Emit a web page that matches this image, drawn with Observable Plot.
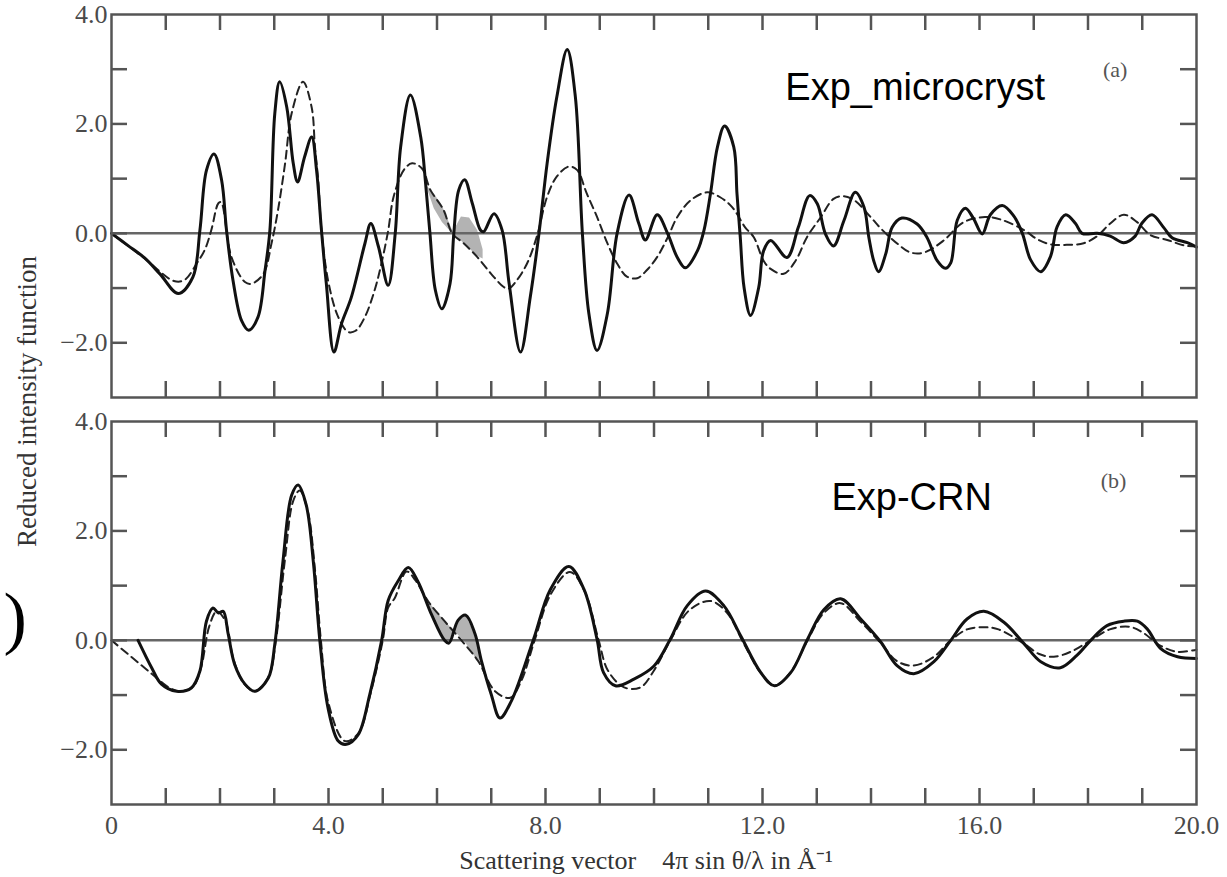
<!DOCTYPE html>
<html><head><meta charset="utf-8">
<script src="https://cdn.jsdelivr.net/npm/d3@7"></script>
<script src="https://cdn.jsdelivr.net/npm/@observablehq/plot@0.6"></script>
<style>html,body{margin:0;padding:0;background:#fff;} #chart{width:1227px;height:877px;}</style>
</head><body><div id="chart"></div>
<script>
// ---- data (scattering vector q in Å^-1, reduced intensity) ----
const panels = ["a", "b"];

const aSolidQ = [0,0.3,0.61,0.9,1.23,1.5,1.63,1.75,1.89,2.03,2.12,2.24,2.4,2.53,2.7,2.83,2.92,3.01,3.1,3.23,3.35,3.43,3.56,3.69,3.78,3.87,3.96,4.1,4.24,4.42,4.67,4.78,4.92,5.1,5.23,5.33,5.51,5.7,5.79,5.87,5.97,6.09,6.24,6.31,6.4,6.51,6.65,6.8,6.86,7.05,7.2,7.33,7.54,7.72,7.88,8.03,8.21,8.4,8.55,8.68,8.8,8.95,9.14,9.32,9.54,9.72,9.84,10.06,10.25,10.43,10.58,10.8,10.92,11.04,11.17,11.3,11.47,11.53,11.59,11.66,11.78,11.93,12.02,12.15,12.45,12.66,12.87,13.01,13.16,13.31,13.5,13.71,13.87,13.96,14.05,14.14,14.27,14.39,14.57,14.85,15.03,15.22,15.37,15.47,15.59,15.74,15.89,16.05,16.2,16.42,16.63,16.79,16.94,17.13,17.31,17.43,17.59,17.77,17.89,18.17,18.41,18.66,18.87,18.99,19.18,19.4,19.55,19.83,20];
const aSolidI = [0,-0.22,-0.45,-0.75,-1.1,-0.8,0.06,1.15,1.45,0.97,0.06,-0.86,-1.6,-1.77,-1.53,-0.68,0.06,2.19,2.77,2.31,1.28,0.94,1.4,1.76,1.15,0.06,-0.92,-2.17,-1.65,-1.17,-0.19,0.18,-0.24,-0.95,0,1.58,2.53,1.76,0.91,0,-1.04,-1.38,-0.92,0,0.79,0.98,0.55,0.06,0.03,0.36,0.06,-0.92,-2.17,-1.16,0,1.28,2.5,3.36,2.5,0,-1.47,-2.14,-1.47,0,0.7,0.18,-0.12,0.34,0,-0.44,-0.63,-0.32,0.05,0.72,1.58,1.96,1.58,0.72,-0.07,-0.99,-1.5,-0.99,-0.32,-0.13,-0.44,0.11,0.69,0.54,-0.01,-0.23,0.23,0.75,0.48,-0.07,-0.5,-0.7,-0.38,0.11,0.28,0.17,-0.07,-0.5,-0.64,-0.54,0.24,0.46,0.27,-0.01,0.34,0.51,0.32,0,-0.48,-0.7,-0.42,0.12,0.34,0.18,0,0,-0.05,-0.17,-0.05,0.18,0.34,0.1,-0.08,-0.17,-0.25];

const aDashedQ = [0,0.6,1.15,1.35,1.57,1.72,1.84,1.97,2.02,2.21,2.46,2.58,2.8,2.95,3.07,3.2,3.32,3.53,3.69,3.75,3.81,3.87,4.0,4.18,4.36,4.5,4.67,4.85,4.96,5.1,5.2,5.39,5.54,5.72,5.88,6.12,6.28,6.49,6.74,6.99,7.23,7.32,7.47,7.66,7.84,8.03,8.21,8.43,8.58,8.76,8.95,9.14,9.32,9.5,9.69,9.87,10.06,10.25,10.43,10.67,10.98,11.22,11.44,11.68,11.84,12.02,12.15,12.39,12.61,12.82,13.07,13.31,13.5,13.7,14.0,14.19,14.5,14.73,14.98,15.34,15.7,16.1,16.4,16.82,17.07,17.31,17.61,17.92,18.17,18.41,18.66,18.9,19.15,19.46,19.77,20];
const aDashedI = [0,-0.45,-0.87,-0.85,-0.55,-0.3,0.06,0.55,0.57,-0.43,-0.89,-0.92,-0.74,-0.18,0.43,1.28,2.19,2.77,2.3,1.58,0.97,0.06,-0.9,-1.53,-1.8,-1.78,-1.53,-1.04,-0.62,0.05,0.67,1.16,1.28,1.19,0.79,0.43,0,-0.18,-0.43,-0.73,-0.98,-1.01,-0.86,-0.55,-0.06,0.67,1.04,1.22,1.16,0.73,0.3,-0.18,-0.55,-0.79,-0.82,-0.67,-0.43,-0.08,0.3,0.6,0.75,0.66,0.48,0.11,-0.07,-0.5,-0.65,-0.74,-0.5,-0.07,0.29,0.63,0.68,0.6,0.29,0.08,-0.2,-0.35,-0.35,-0.13,0.2,0.3,0.25,0.06,-0.11,-0.2,-0.21,-0.18,-0.05,0.18,0.34,0.21,-0.03,-0.12,-0.22,-0.24];

const bSolidQ = [0.49,0.74,0.92,1.2,1.47,1.63,1.75,1.87,1.97,2.06,2.15,2.27,2.46,2.64,2.89,3.01,3.16,3.32,3.44,3.59,3.72,3.84,3.99,4.18,4.33,4.55,4.76,4.98,5.1,5.28,5.47,5.65,5.9,6.14,6.22,6.39,6.53,6.7,6.82,7.0,7.16,7.37,7.78,8.09,8.43,8.71,8.95,9.07,9.29,9.63,10.0,10.3,10.61,10.95,11.29,11.6,11.97,12.22,12.52,12.83,13.13,13.44,13.81,14.18,14.48,14.79,15.16,15.47,15.77,16.08,16.45,16.82,17.13,17.49,17.8,18.05,18.35,18.66,18.91,19.09,19.34,19.65,20];
const bSolidI = [0,-0.5,-0.8,-0.93,-0.87,-0.56,0.35,0.59,0.5,0.53,0.12,-0.44,-0.8,-0.93,-0.69,-0.07,1.44,2.65,2.84,2.47,1.44,0,-1.23,-1.84,-1.9,-1.72,-0.99,0,0.73,1.08,1.33,1.07,0.47,0,-0.05,0.37,0.46,0.12,-0.38,-0.99,-1.42,-1.11,0.02,0.93,1.35,0.93,0.02,-0.59,-0.83,-0.71,-0.47,0.02,0.63,0.9,0.63,0.08,-0.59,-0.83,-0.59,0.02,0.56,0.76,0.39,-0.03,-0.46,-0.61,-0.39,0,0.39,0.53,0.33,-0.06,-0.39,-0.5,-0.27,0,0.27,0.35,0.35,0.21,-0.15,-0.3,-0.33];

const bDashedQ = [0,0.74,1.04,1.25,1.5,1.65,1.8,1.94,2.1,2.25,2.45,2.65,2.9,3.03,3.2,3.35,3.47,3.62,3.75,3.86,4.0,4.3,4.55,4.78,5.0,5.1,5.22,5.44,5.6,5.84,6.14,6.45,6.76,7.07,7.35,7.55,7.8,8.1,8.45,8.72,8.98,9.15,9.45,9.75,10.0,10.3,10.65,11.04,11.35,11.65,11.97,12.22,12.52,12.83,13.13,13.44,13.8,14.18,14.48,14.79,15.16,15.47,15.77,16.08,16.35,16.82,17.1,17.37,17.7,18.05,18.4,18.75,19.0,19.34,19.65,20];
const bDashedI = [0,-0.61,-0.85,-0.93,-0.85,-0.5,0.25,0.53,0.35,-0.35,-0.8,-0.93,-0.65,0,1.5,2.55,2.74,2.35,1.3,0,-1.15,-1.84,-1.7,-0.95,0,0.6,0.77,1.26,1.1,0.71,0.35,0,-0.38,-0.93,-1.05,-0.75,0,0.85,1.25,0.9,0,-0.55,-0.86,-0.86,-0.55,0,0.55,0.72,0.5,-0.05,-0.6,-0.83,-0.58,0,0.5,0.68,0.35,-0.05,-0.38,-0.46,-0.3,0,0.2,0.24,0.2,-0.06,-0.25,-0.3,-0.2,0,0.2,0.25,0.15,-0.1,-0.21,-0.17];

// shaded difference regions
const aShadeQ  = [5.8, 5.95, 6.1, 6.3, 6.45, 6.6, 6.75, 6.85];
const aShadeHi = [0.88, 0.72, 0.5, 0.02, 0.3, 0.28, 0.05, -0.3];
const aShadeLo = [0.88, 0.45, 0.2, -0.02, -0.14, -0.28, -0.42, -0.47];
const bShadeQ  = [5.84, 6.0, 6.14, 6.22, 6.39, 6.53, 6.7, 6.8];
const bShadeHi = [0.71, 0.52, 0.35, 0.27, 0.1, -0.05, -0.3, -0.38];
const bShadeLo = [0.6, 0.28, 0.0, -0.05, 0.37, 0.46, 0.12, -0.3];

// axes
const xTickLabels = [0, 4, 8, 12, 16, 20];
const xMinorTicks = d3.range(1, 20);
const yTickLabels = [4, 2, 0, -2];
const yMinorTicks = [-2, -1, 0, 1, 2, 3];

// text
const annotPanel = ["a", "b"];
const annotText = ["Exp_microcryst", "Exp-CRN"];
const annotQ = [12.42, 13.27];
const annotI = [2.66, 2.61];
const tagText = ["(a)", "(b)"];
const tagQ = [18.5, 18.47];
const tagI = [2.99, 2.91];
const yTitle = "Reduced intensity function";
const xTitle = "Scattering vector\u00a0\u00a0\u00a0\u00a04\u03c0 sin \u03b8/\u03bb in \u00c5\u207b\u00b9";

// ---- build tables ----
const toRows = (panel, qs, is) => qs.map((q, i) => ({panel, q, v: is[i]}));
const solid = [...toRows("a", aSolidQ, aSolidI), ...toRows("b", bSolidQ, bSolidI)];
const dashed = [...toRows("a", aDashedQ, aDashedI), ...toRows("b", bDashedQ, bDashedI)];
const shade = [
  ...aShadeQ.map((q, i) => ({panel: "a", q, hi: aShadeHi[i], lo: aShadeLo[i]})),
  ...bShadeQ.map((q, i) => ({panel: "b", q, hi: bShadeHi[i], lo: bShadeLo[i]}))
];
const annots = annotText.map((t, i) => ({panel: annotPanel[i], t, q: annotQ[i], v: annotI[i]}));
const tags = tagText.map((t, i) => ({panel: panels[i], t, q: tagQ[i], v: tagI[i]}));

// ---- layout ----
const W = 1227, H = 877, mL = 111, mR = 31, mT = 14, mB = 73, pad = 0.059;
const bandH = (H - mT - mB) * (1 - pad) / (2 - pad);
const plotW = W - mL - mR;
const tickLen = 16;
const axisColor = "#555";
const serif = "'Liberation Serif', 'Times New Roman', serif";
const sans = "'Liberation Sans', Arial, sans-serif";

const chart = Plot.plot({
  width: W, height: H,
  marginLeft: mL, marginRight: mR, marginTop: mT, marginBottom: mB,
  style: {fontFamily: serif, fontSize: "26px", background: "#fff", color: "#444"},
  x: {domain: [0, 20]},
  y: {domain: [-3, 4]},
  fy: {domain: panels, padding: pad, axis: null},
  marks: [
    Plot.areaY(shade, {x: "q", y1: "lo", y2: "hi", fy: "panel", z: "panel", fill: "#a0a0a0", fillOpacity: 0.8}),
    Plot.ruleY([0], {stroke: "#666", strokeWidth: 2.5}),
    Plot.line(dashed, {x: "q", y: "v", fy: "panel", z: "panel", stroke: "#222", strokeWidth: 2, strokeDasharray: "8,5", curve: "catmull-rom"}),
    Plot.line(solid, {x: "q", y: "v", fy: "panel", z: "panel", stroke: "#111", strokeWidth: 3, curve: "catmull-rom"}),
    Plot.frame({stroke: axisColor, strokeWidth: 2.5}),
    Plot.tickX(xMinorTicks, {x: d => d, stroke: axisColor, strokeWidth: 2.5, insetBottom: bandH - tickLen}),
    Plot.tickX(xMinorTicks, {x: d => d, stroke: axisColor, strokeWidth: 2.5, insetTop: bandH - tickLen}),
    Plot.tickY(yMinorTicks, {y: d => d, stroke: axisColor, strokeWidth: 2.5, insetRight: plotW - tickLen}),
    Plot.tickY(yMinorTicks, {y: d => d, stroke: axisColor, strokeWidth: 2.5, insetLeft: plotW - tickLen}),
    Plot.axisY({ticks: yTickLabels, tickSize: 0, tickPadding: 4, tickFormat: d3.format(".1f"), label: null, fill: "#4a4a4a", fontSize: 26}),
    Plot.axisX({ticks: xTickLabels, tickSize: 0, tickPadding: 11, tickFormat: d => d === 0 ? "0" : d.toFixed(1), label: null, fill: "#4a4a4a", fontSize: 26}),
    Plot.text(annots, {x: "q", y: "v", fy: "panel", text: "t", textAnchor: "start", lineAnchor: "middle", fontFamily: sans, fontSize: 38, fill: "#000"}),
    Plot.text(tags, {x: "q", y: "v", fy: "panel", text: "t", textAnchor: "middle", lineAnchor: "middle", fontFamily: serif, fontSize: 22, fill: "#555"}),
    Plot.text([{panel: "a", t: yTitle}], {fy: "panel", text: "t", frameAnchor: "bottom-left", textAnchor: "middle", lineAnchor: "middle", rotate: -90, dx: -84, dy: 4, fontSize: 27, fill: "#333"}),
    Plot.text([{panel: "b", t: xTitle}], {fy: "panel", text: "t", frameAnchor: "bottom", textAnchor: "middle", lineAnchor: "middle", dx: -8, dy: 56, fontSize: 26, fill: "#333"}),
    Plot.text([{panel: "b", t: ")", q: -1.99, v: 0.4}], {x: "q", y: "v", fy: "panel", text: "t", textAnchor: "start", lineAnchor: "middle", fontFamily: serif, fontSize: 70, fill: "#000"})
  ]
});
document.getElementById("chart").appendChild(chart);
</script>
</body></html>
